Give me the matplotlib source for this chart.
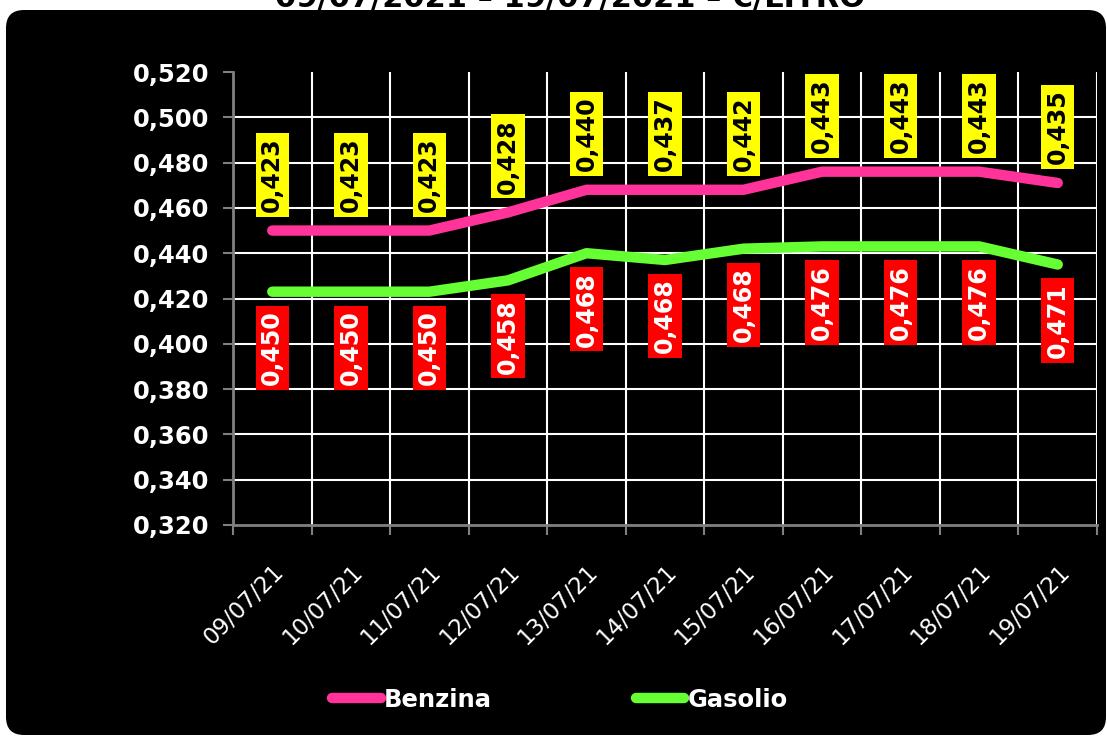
import matplotlib
matplotlib.use("Agg")
import matplotlib.pyplot as plt
import numpy as np
from matplotlib.patches import FancyBboxPatch
from matplotlib.transforms import IdentityTransform
from matplotlib.lines import Line2D

dates = ["09/07/21", "10/07/21", "11/07/21", "12/07/21", "13/07/21", "14/07/21",
         "15/07/21", "16/07/21", "17/07/21", "18/07/21", "19/07/21"]
benzina = [0.450, 0.450, 0.450, 0.458, 0.468, 0.468, 0.468, 0.476, 0.476, 0.476, 0.471]
gasolio = [0.423, 0.423, 0.423, 0.428, 0.440, 0.437, 0.442, 0.443, 0.443, 0.443, 0.435]
yticks = [0.320, 0.340, 0.360, 0.380, 0.400, 0.420, 0.440, 0.460, 0.480, 0.500, 0.520]
title = "09/07/2021 – 19/07/2021 – €/LITRO"

PINK = "#FF3399"
GREEN = "#66FF33"
GREY = "#808080"

W, H = 1107, 736
fig = plt.figure(figsize=(W / 100, H / 100), dpi=100, facecolor="white")

# black rounded panel
panel = FancyBboxPatch((6, 1), 1100, 725, boxstyle="round,pad=0,rounding_size=18",
                       transform=IdentityTransform(), facecolor="black",
                       edgecolor="none", zorder=0)
fig.patches.append(panel)

# partially clipped title (as in the reference, only its lower part is visible)
fig.text(570 / W, 1 - 7 / H, title, ha="center", va="baseline",
         fontsize=22, fontweight="bold", color="black")

ax = fig.add_axes([233 / W, 1 - 525 / H, (1097 - 233) / W, (525 - 72) / H])
ax.set_zorder(2)
ax.set_facecolor("black")
x = np.arange(len(dates))

ax.plot(x, benzina, color=PINK, lw=7.5, solid_capstyle="round",
        solid_joinstyle="round", zorder=3)
ax.plot(x, gasolio, color=GREEN, lw=7.5, solid_capstyle="round",
        solid_joinstyle="round", zorder=3)

ax.set_xlim(-0.5, len(dates) - 0.5)
ax.set_ylim(0.320, 0.520)
ax.set_yticks(yticks)
ax.set_yticklabels([f"{v:.3f}".replace(".", ",") for v in yticks],
                   fontsize=17.5, fontweight="bold", color="white")
ax.set_xticks(x)
ax.set_xticklabels(dates, rotation=45, ha="right", rotation_mode="anchor",
                   fontsize=16.5, color="white")
ax.set_xticks(np.arange(-0.5, len(dates), 1), minor=True)

ax.tick_params(axis="x", which="major", length=0, pad=25)
ax.tick_params(axis="x", which="minor", length=7, color=GREY, width=1.5)
ax.tick_params(axis="y", which="major", length=7, color=GREY, width=1.5, pad=10)

ax.grid(axis="y", which="major", color="white", lw=1.5, zorder=1)
ax.grid(axis="x", which="minor", color="white", lw=1.5, zorder=1)
ax.set_axisbelow(True)
ygl = ax.yaxis.get_gridlines()
ygl[-1].set_visible(False)
ygl[0].set_visible(False)

for s in ["top", "right"]:
    ax.spines[s].set_visible(False)
for s in ["left", "bottom"]:
    ax.spines[s].set_color(GREY)
    ax.spines[s].set_linewidth(2)

for i in x:
    ax.annotate(f"{gasolio[i]:.3f}".replace(".", ","), (i, benzina[i]),
                xytext=(0, 56), textcoords="offset pixels", rotation=90,
                ha="center", va="center", fontsize=17, fontweight="bold",
                color="black", zorder=5,
                bbox=dict(boxstyle="square,pad=0.2", fc="#FFFF00", ec="none"))
    ax.annotate(f"{benzina[i]:.3f}".replace(".", ","), (i, gasolio[i]),
                xytext=(0, -56), textcoords="offset pixels", rotation=90,
                ha="center", va="center", fontsize=17, fontweight="bold",
                color="white", zorder=5,
                bbox=dict(boxstyle="square,pad=0.2", fc="#FF0000", ec="none"))

handles = [Line2D([], [], color=PINK, lw=7.5, solid_capstyle="round"),
           Line2D([], [], color=GREEN, lw=7.5, solid_capstyle="round")]
leg = fig.legend(handles, ["Benzina", "Gasolio"], loc="center",
                 bbox_to_anchor=(560 / W, 1 - 700 / H), ncol=2, frameon=False,
                 handlelength=2.0, handletextpad=0.15, columnspacing=5.9,
                 prop={"weight": "bold", "size": 17.5})
leg.set_zorder(3)
for t in leg.get_texts():
    t.set_color("white")

fig.savefig("out.png", dpi=100, facecolor="white")
